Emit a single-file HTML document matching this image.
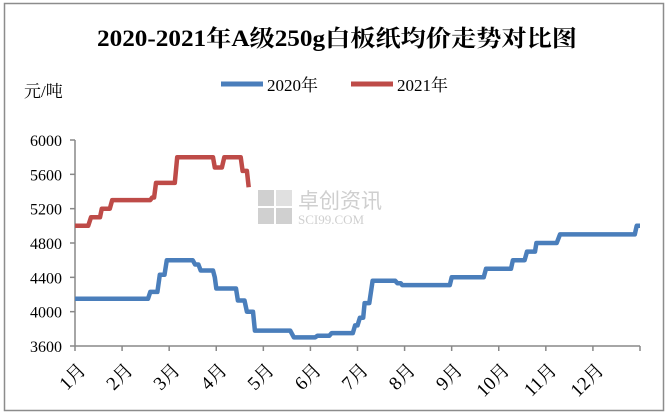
<!DOCTYPE html>
<html><head><meta charset="utf-8"><style>
body{margin:0;background:#fff;}
svg{display:block;font-family:"Liberation Serif","Noto Serif CJK SC",serif;}
</style></head><body>
<svg width="670" height="417" viewBox="0 0 670 417">
<rect x="4.5" y="3.5" width="659" height="407" fill="#fff" stroke="#8c8c8c" stroke-width="1.5"/>
<text x="337" y="46" text-anchor="middle" font-size="23" font-weight="bold" textLength="480" lengthAdjust="spacingAndGlyphs">2020-2021年A级250g白板纸均价走势对比图</text>
<text x="24" y="97" font-size="17">元/吨</text>
<g>
<g><line x1="221" y1="84" x2="263" y2="84" stroke="#4a7ebb" stroke-width="5"/><text x="267" y="91" font-size="17">2020年</text></g>
<g><line x1="351" y1="84" x2="393" y2="84" stroke="#be4b48" stroke-width="5"/><text x="397" y="91" font-size="17">2021年</text></g>
</g>
<g fill="#d0d0d0">
<rect x="258" y="190" width="16" height="16"/><rect x="276" y="190" width="16" height="16" fill="#e0e0e0"/><rect x="258" y="208" width="16" height="16"/><rect x="276" y="208" width="16" height="16"/>
<text x="298" y="208" font-size="21" fill="#cfcfcf" font-family="Liberation Sans,'Noto Sans CJK SC',sans-serif">卓创资讯</text>
<text x="298" y="224" font-size="13" fill="#cfcfcf">SCI99.COM</text>
</g>
<g id="axes"></g>
<g id="series"></g>
</svg>
<script>
const yTicks=[3600,4000,4400,4800,5200,5600,6000];
const monthLabels=["1月","2月","3月","4月","5月","6月","7月","8月","9月","10月","11月","12月"];
const months2020=[0,1.55,1.6,1.75,1.8,1.9,1.95,2.5,2.55,2.62,2.67,2.93,2.97,3.0,3.42,3.46,3.6,3.65,3.78,3.82,4.57,4.65,5.1,5.15,5.4,5.45,5.9,5.95,6.0,6.05,6.12,6.15,6.25,6.32,6.8,6.85,6.92,6.95,7.96,8.0,8.68,8.73,9.26,9.3,9.55,9.6,9.77,9.8,10.23,10.3,11.89,11.93,12];
const values2020=[4150,4150,4230,4230,4430,4430,4600,4600,4550,4550,4480,4480,4400,4270,4270,4130,4130,4000,4000,3780,3780,3700,3700,3720,3720,3750,3750,3840,3840,3930,3930,4100,4100,4360,4360,4330,4330,4310,4310,4400,4400,4500,4500,4600,4600,4700,4700,4800,4800,4900,4900,5000,5000];
const months2021=[0,0.28,0.34,0.53,0.57,0.74,0.79,1.6,1.64,1.68,1.72,2.12,2.17,2.93,2.97,3.12,3.17,3.52,3.56,3.65,3.69];
const values2021=[5000,5000,5100,5100,5200,5200,5300,5300,5330,5330,5500,5500,5800,5800,5680,5680,5800,5800,5640,5640,5450];
const X0=75,X1=640,Y0=346,Y1=140;
const xs=m=>X0+(X1-X0)*m/12;
const ys=v=>Y0-(Y0-Y1)*(v-3600)/(6000-3600);
const NS="http://www.w3.org/2000/svg";
const axes=document.getElementById('axes');
function mk(tag,attrs,parent){const e=document.createElementNS(NS,tag);for(const k in attrs)e.setAttribute(k,attrs[k]);parent.appendChild(e);return e;}
const yax=mk('line',{x1:X0,y1:Y1,x2:X0,y2:Y0,stroke:'#888','stroke-width':1.5},axes);


const xax=mk('line',{x1:X0,y1:Y0,x2:X1,y2:Y0,stroke:'#888','stroke-width':1.5},axes);


yTicks.forEach(v=>{
  const t=mk('line',{x1:X0-5,y1:ys(v),x2:X0,y2:ys(v),stroke:'#888','stroke-width':1.5},axes);
  
  
  const l=mk('text',{x:X0-13,y:ys(v)+6,'text-anchor':'end','font-size':16},axes);
  l.textContent=v;
  
  
});
for(let i=0;i<=12;i++){
  const t=mk('line',{x1:xs(i),y1:Y0,x2:xs(i),y2:Y0+5,stroke:'#888','stroke-width':1.5},axes);
  
  
}
monthLabels.forEach((m,i)=>{
  const x=xs(i)+12,y=Y0+25;
  const l=mk('text',{x:x,y:y,'text-anchor':'end','font-size':19,transform:`rotate(-45 ${x} ${y})`},axes);
  l.textContent=m;
  
  
});
const ser=document.getElementById('series');
function drawLine(ms,vs,color,name){
  const d=ms.map((m,i)=>(i?'L':'M')+xs(m).toFixed(1)+' '+ys(vs[i]).toFixed(1)).join(' ');
  const p=mk('path',{d:d,fill:'none',stroke:color,'stroke-width':4.5,'stroke-linejoin':'round'},ser);
  
  
}
drawLine(months2020,values2020,'#4a7ebb','line-2020');
drawLine(months2021,values2021,'#be4b48','line-2021');
</script>
</body></html>
